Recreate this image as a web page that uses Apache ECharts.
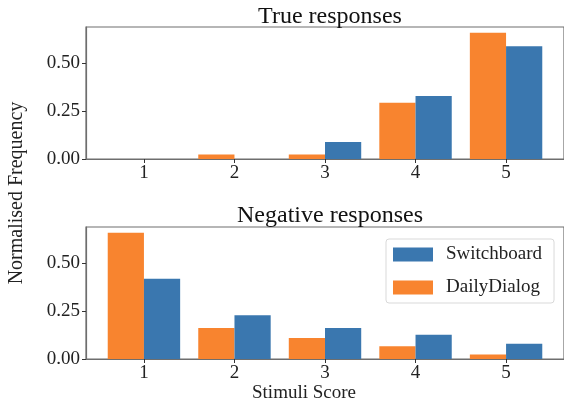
<!DOCTYPE html>
<html>
<head>
<meta charset="utf-8">
<script src="https://cdn.jsdelivr.net/npm/echarts@6/dist/echarts.min.js"></script>
<style>html,body{margin:0;padding:0;background:#fff}#c{width:564px;height:403px}</style>
</head>
<body>
<div id="c"></div>
<script>
const scores = [1, 2, 3, 4, 5];
const yTicks = [0, 0.25, 0.5];
const trueDaily = [0.0, 0.023, 0.023, 0.293, 0.658];
const trueSwitch = [0.0, 0.0, 0.089, 0.328, 0.587];
const negDaily = [0.657, 0.162, 0.110, 0.066, 0.024];
const negSwitch = [0.418, 0.228, 0.162, 0.126, 0.080];
const colors = {DailyDialog: '#f8842f', Switchboard: '#3a77af'};

const font = 'Liberation Serif, Times New Roman, serif';
const spine = '#6e6e6e';
const pair = (xs, ys) => xs.map((x, i) => [x, ys[i]]);

function xAx(gi) {
  return {
    type: 'value', gridIndex: gi, min: 0.36, max: 5.64,
    axisLine: {show: true, lineStyle: {color: spine, width: 1.2}},
    axisTick: {show: true, customValues: scores, length: 4, lineStyle: {color: '#333'}},
    axisLabel: {customValues: scores, color: '#222', fontFamily: font, fontSize: 19, margin: 5},
    splitLine: {show: false}
  };
}
function yAx(gi) {
  return {
    type: 'value', gridIndex: gi, min: 0, max: 0.6875,
    axisLine: {show: true, lineStyle: {color: spine, width: 1.2}},
    axisTick: {show: true, customValues: yTicks, length: 4, lineStyle: {color: '#333'}},
    axisLabel: {customValues: yTicks, color: '#222', fontFamily: font, fontSize: 19, margin: 6,
      formatter: v => v.toFixed(2)},
    splitLine: {show: false}
  };
}
function bars(name, data, gi) {
  return {
    name: name, type: 'bar', xAxisIndex: gi, yAxisIndex: gi,
    data: pair(scores, data), barGap: '0%', barCategoryGap: '20%',
    itemStyle: {color: colors[name]}
  };
}

const chart = echarts.init(document.getElementById('c'), null, {renderer: 'canvas'});
chart.setOption({
  animation: false,
  backgroundColor: '#fff',
  title: [
    {text: 'True responses', left: 325, top: 0, textAlign: 'center',
      textStyle: {fontFamily: font, fontSize: 24, fontWeight: 'normal', color: '#111'}},
    {text: 'Negative responses', left: 325, top: 199, textAlign: 'center',
      textStyle: {fontFamily: font, fontSize: 24, fontWeight: 'normal', color: '#111'}}
  ],
  grid: [
    {left: 86, top: 27, width: 478.5, height: 132, show: true, borderColor: spine, borderWidth: 1.2, backgroundColor: 'transparent'},
    {left: 86, top: 227, width: 478.5, height: 132, show: true, borderColor: spine, borderWidth: 1.2, backgroundColor: 'transparent'}
  ],
  xAxis: [xAx(0), xAx(1)],
  yAxis: [yAx(0), yAx(1)],
  legend: {
    data: ['Switchboard', 'DailyDialog'],
    orient: 'vertical', left: 386, top: 239,
    itemWidth: 40, itemHeight: 14, itemGap: 14,
    padding: [6, 12, 6, 7],
    borderColor: '#d9d9d9', borderWidth: 1, borderRadius: 3, backgroundColor: '#fff',
    icon: 'rect',
    textStyle: {fontFamily: font, fontSize: 19, color: '#222', padding: [0, 0, 0, 8]}
  },
  series: [
    bars('DailyDialog', trueDaily, 0),
    bars('Switchboard', trueSwitch, 0),
    bars('DailyDialog', negDaily, 1),
    bars('Switchboard', negSwitch, 1)
  ],
  graphic: [
    {type: 'text', x: 17, y: 193, rotation: Math.PI / 2,
      style: {text: 'Normalised Frequency', fontFamily: font, fontSize: 20, fill: '#222',
        textAlign: 'center', textVerticalAlign: 'middle'}},
    {type: 'text', x: 304, y: 393,
      style: {text: 'Stimuli Score', fontFamily: font, fontSize: 19, fill: '#222',
        textAlign: 'center', textVerticalAlign: 'middle'}}
  ]
});
</script>
</body>
</html>
